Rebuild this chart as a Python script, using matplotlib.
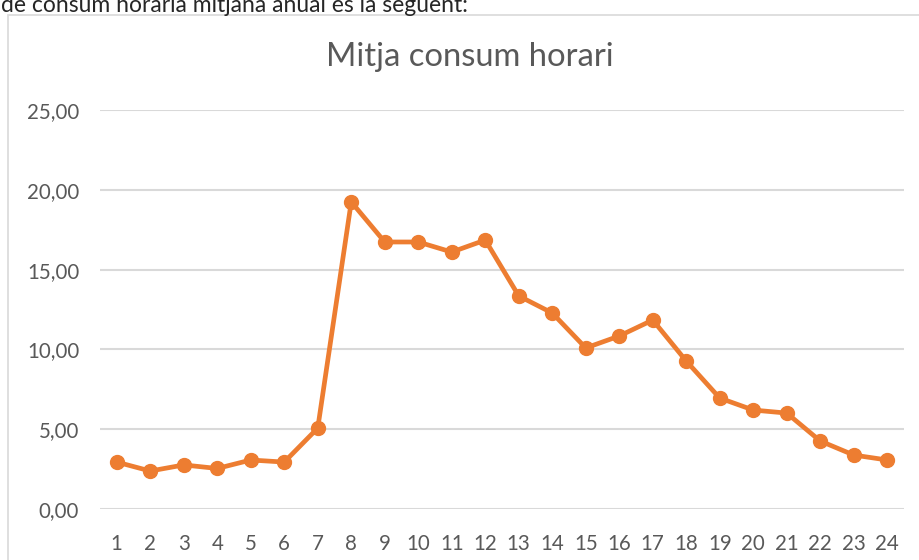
import matplotlib
matplotlib.use("Agg")
import matplotlib.pyplot as plt
from matplotlib.patches import Rectangle
from matplotlib.ticker import FuncFormatter

hours = list(range(1, 25))
consum = [2.94, 2.38, 2.76, 2.54, 3.07, 2.94, 5.07, 19.24, 16.73, 16.73, 16.10, 16.85,
          13.35, 12.28, 10.09, 10.84, 11.84, 9.27, 6.95, 6.20, 6.01, 4.26, 3.38, 3.07]
title = "Mitja consum horari"
intro_text = "de consum horària mitjana anual és la següent:"
yticks = [0, 5, 10, 15, 20, 25]

W, H = 919, 560
fig = plt.figure(figsize=(W / 100, H / 100), dpi=100)
fig.patch.set_facecolor("white")

font = ["Lato", "DejaVu Sans"]
grey = "#595959"
orange = "#ED7D31"

# chart border
fig.patches.append(Rectangle((8 / W, -0.1), 1.1, (H - 15) / H + 0.1, transform=fig.transFigure,
                             fill=False, edgecolor="#d9d9d9", linewidth=1.2))

fig.text(1 / W, (H - 12) / H, intro_text, fontsize=16.5, color="#262626",
         family=font, va="baseline", ha="left")

ax = fig.add_axes([100 / W, (H - 509) / H, 804 / W, (509 - 110) / H])
ax.plot(hours, consum, color=orange, linewidth=3.4, marker="o", markersize=10,
        solid_capstyle="round", zorder=3)
ax.set_xlim(0.5, 24.5)
ax.set_ylim(0, 25)
ax.set_yticks(yticks)
ax.set_xticks(hours)
ax.yaxis.set_major_formatter(FuncFormatter(lambda v, p: f"{v:.2f}".replace(".", ",")))
ax.grid(axis="y", color="#d9d9d9", linewidth=1.5, zorder=0)
ax.set_axisbelow(True)
for s in ax.spines.values():
    s.set_visible(False)
ax.tick_params(axis="both", length=0, labelcolor=grey, labelsize=14.8)
ax.tick_params(axis="y", pad=15)
ax.tick_params(axis="x", pad=18)
for lbl in ax.get_xticklabels() + ax.get_yticklabels():
    lbl.set_family(font)

fig.text(470 / W, (H - 57) / H, title, fontsize=23.6, color=grey, family=font,
         ha="center", va="center")

fig.savefig("out.png", dpi=100)
